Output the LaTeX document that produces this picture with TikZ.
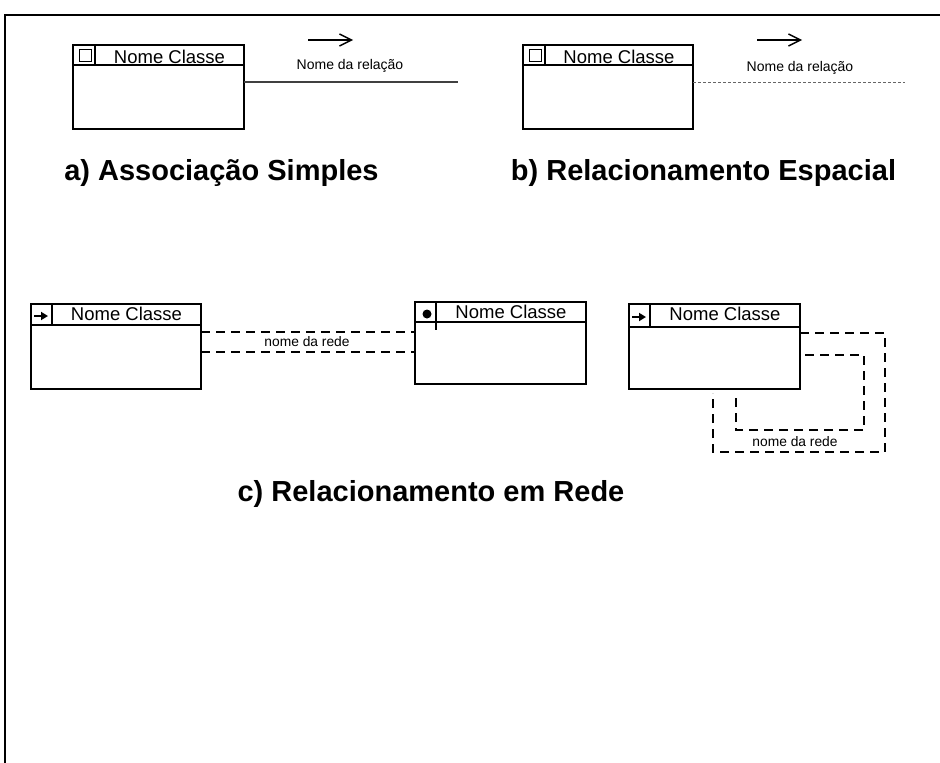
\documentclass[tikz,border=0pt]{standalone}
\usepackage{fontspec}
\setmainfont{Liberation Sans}
\usetikzlibrary{arrows.meta}
\begin{document}
\begin{tikzpicture}[x=1pt,y=-1pt,
  classbox/.style={draw,line width=1.1pt,rectangle,anchor=north west,inner sep=0pt,outer sep=0pt},
  rule/.style={line width=1.1pt},
  classname/.style={anchor=base,inner sep=0pt,font=\fontsize{18.5}{20}\selectfont},
  rellabel/.style={anchor=base,inner sep=0pt,font=\fontsize{14}{16}\selectfont},
  netlabel/.style={anchor=base,inner sep=0pt,font=\fontsize{13.8}{16}\selectfont},
  caption/.style={anchor=base,inner sep=0pt,font=\fontsize{29}{32}\selectfont\bfseries},
  assoc/.style={line width=1.1pt,draw=black!75},
  spatial/.style={line width=1pt,draw=black!60,dash pattern=on 3pt off 2pt},
  net/.style={line width=1.5pt,dash pattern=on 9pt off 6pt},
  dirarrow/.style={line width=1.4pt,-{Straight Barb[length=12pt,width=12pt,line width=1.4pt]}},
  iconarrow/.style={line width=1.8pt,-{Triangle[length=7pt,width=8pt]}}
]
\useasboundingbox (0,0) rectangle (940,763);

% outer frame (top and left edges)
\draw[line width=2.6pt] (5,763) -- (5,15) -- (940,15);

% ---------- a) simple association ----------
\node[classbox,minimum width=171pt,minimum height=84pt] (ca) at (73,45) {};
\draw[rule] ([yshift=-20pt]ca.north west) -- ([yshift=-20pt]ca.north east);
\draw[rule] ([xshift=22pt]ca.north west) -- ([xshift=22pt,yshift=-20pt]ca.north west);
\draw[line width=1pt] ([xshift=6pt,yshift=-4pt]ca.north west) rectangle ++(12,12);
\node[classname] (ta) at (169.5,63) {Nome Classe};
\coordinate (aend) at (458,82);
\draw[assoc] (ca.east |- aend) -- (aend);
\coordinate (aarrs) at (308,40);
\coordinate (aarre) at (353,40);
\draw[dirarrow] (aarrs) -- (aarre);
\node[rellabel] (ra) at (350,69) {Nome da relação};
\node[caption] (capa) at (221.5,180) {a) Associação Simples};

% ---------- b) spatial relationship ----------
\node[classbox,minimum width=170pt,minimum height=84pt] (cb) at (523,45) {};
\draw[rule] ([yshift=-20pt]cb.north west) -- ([yshift=-20pt]cb.north east);
\draw[rule] ([xshift=22pt]cb.north west) -- ([xshift=22pt,yshift=-20pt]cb.north west);
\draw[line width=1pt] ([xshift=6pt,yshift=-4pt]cb.north west) rectangle ++(12,12);
\node[classname] (tb) at (619,63) {Nome Classe};
\coordinate (bend) at (905,82);
\draw[spatial] (cb.east |- bend) -- (bend);
\coordinate (barrs) at (757,40);
\coordinate (barre) at (802,40);
\draw[dirarrow] (barrs) -- (barre);
\node[rellabel] (rb) at (800,71) {Nome da relação};
\node[caption] (capb) at (703.5,180) {b) Relacionamento Espacial};

% ---------- c) network relationship ----------
% first class
\node[classbox,minimum width=170pt,minimum height=85pt] (c1) at (31,304) {};
\draw[rule] ([yshift=-21pt]c1.north west) -- ([yshift=-21pt]c1.north east);
\draw[rule] ([xshift=21pt]c1.north west) -- ([xshift=21pt,yshift=-21pt]c1.north west);
\coordinate (c1as) at (34,316);
\coordinate (c1ae) at (48,316);
\draw[iconarrow] (c1as) -- (c1ae);
\node[classname] (t1) at (126.5,320) {Nome Classe};

% second class
\node[classbox,minimum width=171pt,minimum height=82pt] (c2) at (415,302) {};
\draw[rule] ([yshift=-20pt]c2.north west) -- ([yshift=-20pt]c2.north east);
\draw[rule] ([xshift=21pt]c2.north west) -- ([xshift=21pt,yshift=-28pt]c2.north west);
\fill (427,314) circle (4.5pt);
\node[classname] (t2) at (511,318) {Nome Classe};

% network link between the two classes
\draw[net] (c1.east |- 0,332) -- (c2.west |- 0,332);
\draw[net] (c1.east |- 0,352) -- (c2.west |- 0,352);
\node[netlabel] (n1) at (307,346) {nome da rede};

% third class with a self network link
\node[classbox,minimum width=171pt,minimum height=85pt] (c3) at (629,304) {};
\draw[rule] ([yshift=-23pt]c3.north west) -- ([yshift=-23pt]c3.north east);
\draw[rule] ([xshift=21pt]c3.north west) -- ([xshift=21pt,yshift=-23pt]c3.north west);
\coordinate (c3as) at (632,317);
\coordinate (c3ae) at (646,317);
\draw[iconarrow] (c3as) -- (c3ae);
\node[classname] (t3) at (725,320) {Nome Classe};

\coordinate (l1end) at (713,393);
\coordinate (l2end) at (736,393);
\draw[net] (c3.east |- 0,333) -- (885,333) -- (885,452) -- (713,452) -- (l1end);
\draw[net] ([xshift=5pt]c3.east |- 0,355) -- (864,355) -- (864,430) -- (736,430) -- (l2end);
\node[netlabel] (n3) at (795,446) {nome da rede};

\node[caption] (capc) at (431,501) {c) Relacionamento em Rede};
\end{tikzpicture}
\end{document}
